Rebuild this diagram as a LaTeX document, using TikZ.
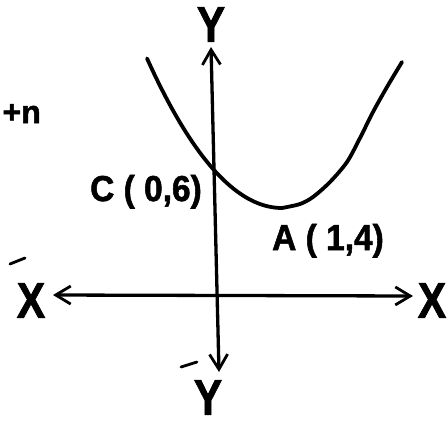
\documentclass[tikz,border=0pt]{standalone}
\usepackage{fontspec}
\setmainfont{Liberation Sans}
\newfontfamily\heavyfont[BoldFeatures={FakeBold=1.6}]{Liberation Sans}
\usetikzlibrary{arrows.meta}
\begin{document}
\begin{tikzpicture}[x=1pt,y=-1pt,
  axis/.style={line width=3.3pt, {Straight Barb[length=15pt,width=18pt,line width=2.8pt]}-{Straight Barb[length=15pt,width=18pt,line width=2.8pt]}},
  curve/.style={line width=3.8pt, line cap=round},
  primemark/.style={line width=2.8pt, line cap=round},
  biglab/.style={font=\fontsize{50}{50}\selectfont\heavyfont\bfseries, xscale=0.85, inner sep=0pt},
  ptlab/.style={font=\fontsize{36}{36}\selectfont\heavyfont\bfseries, xscale=0.93, inner sep=0pt},
  sidelab/.style={font=\fontsize{32}{32}\selectfont\heavyfont\bfseries, inner sep=0pt}]
\useasboundingbox (0,0) rectangle (447,421);
\fill[white] (0,0) rectangle (447,421);
% axis end points
\coordinate (ytop) at (211,47);
\coordinate (ybot) at (219,372);
\coordinate (xl) at (53,295);
\coordinate (xr) at (413,296);
% axes
\draw[axis] (ybot) -- (ytop);
\draw[axis] (xl) -- (xr);
% axis labels
\node[biglab, anchor=north] (Ytop) at (211,7) {Y};
\node[biglab, anchor=north] (Xleft) at (31,283) {X};
\node[biglab, anchor=north] (Xright) at (432,283) {X};
\node[biglab, anchor=north] (Ybot) at (208,380) {Y};
\coordinate (p1a) at (10,264);
\coordinate (p1b) at (25,258);
\coordinate (p2a) at (181,367);
\coordinate (p2b) at (197,362);
\draw[primemark] (p1a) -- (p1b);
\draw[primemark] (p2a) -- (p2b);
% parabola (left and right halves joined at the vertex)
\draw[curve] plot[domain=147:282, samples=40] (\x, {208-(0.0906*(\x-282))^2})
  -- plot[smooth, tension=0.5] coordinates {(282,208) (300,204) (313,197) (330,182) (347,162) (360,138) (373,112) (387,87) (402,62)};
% point labels
\node[ptlab, anchor=base west] (C) at (90,201) {C ( 0,6)};
\node[ptlab, anchor=base west] (A) at (272,250) {A ( 1,4)};
% side text
\node[sidelab, anchor=base east] (side) at (41,123) {+n};
\end{tikzpicture}
\end{document}
